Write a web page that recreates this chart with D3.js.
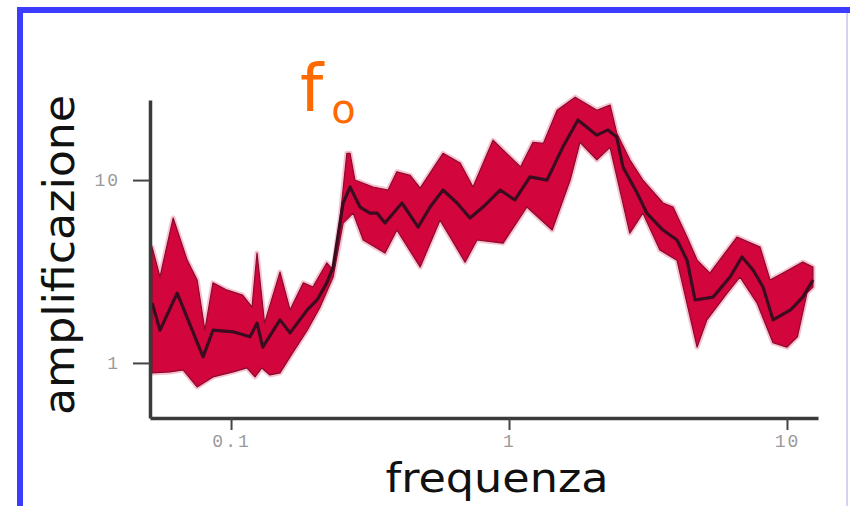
<!DOCTYPE html>
<html>
<head>
    <style>
    body { margin: 0; background: #fff; }
    svg { display: block; }
    </style>
</head>
<body>
    <svg width="850" height="506"></svg>
    <script src="https://d3js.org/d3.v7.min.js"></script>
    <script>

        // mean curve (frequency, amplification)
        var meanFreq = [0.052, 0.0555, 0.064, 0.0793, 0.0861, 0.1017, 0.117, 0.124, 0.130, 0.150, 0.163, 0.188, 0.204, 0.221, 0.233, 0.253, 0.268,
            0.291, 0.316, 0.335, 0.358, 0.412, 0.471, 0.520, 0.579, 0.650, 0.724, 0.806, 0.929, 1.05, 1.19, 1.37, 1.56, 1.77, 2.07, 2.27, 2.44,
            2.57, 2.89, 3.13, 3.58, 4.02, 4.37, 4.67, 5.42, 6.24, 6.89, 7.55, 8.20, 8.91, 10.3, 11.4, 12.4];
        var meanAmp = [2.13, 1.51, 2.41, 1.08, 1.51, 1.48, 1.39, 1.65, 1.22, 1.72, 1.46, 1.95, 2.21, 2.74, 3.35, 7.49, 9.16,
            7.12, 6.60, 6.60, 5.82, 7.49, 5.53, 7.12, 8.82, 7.49, 6.20, 7.12, 8.82, 7.78, 10.4, 10.0, 15.1, 21.3, 17.6, 18.8, 17.2,
            11.8, 8.49, 6.60, 5.33, 4.70, 3.65, 2.21, 2.29, 2.95, 3.80, 3.22, 2.60, 1.72, 1.95, 2.29, 2.84];

        // upper edge of the band
        var upperFreq = [0.052, 0.0555, 0.0619, 0.0695, 0.0755, 0.0805, 0.0861, 0.0968, 0.110, 0.119, 0.124, 0.132, 0.150, 0.163, 0.182, 0.197,
            0.221, 0.233, 0.247, 0.261, 0.268, 0.279, 0.324, 0.367, 0.395, 0.441, 0.479, 0.579, 0.667, 0.742, 0.876, 1.10, 1.22, 1.33, 1.49,
            1.73, 2.07, 2.31, 2.44, 2.72, 3.03, 3.58, 3.89, 4.37, 4.75, 5.28, 6.61, 8.00, 8.69, 9.68, 11.4, 12.4];
        var upperAmp = [4.30, 2.95, 6.20, 3.65, 2.84, 1.51, 2.74, 2.50, 2.35, 2.02, 3.99, 1.65, 3.14, 1.95, 2.74, 2.60,
            3.52, 3.22, 6.28, 14.0, 14.0, 10.0, 9.16, 8.82, 11.1, 10.6, 9.04, 14.0, 12.4, 9.16, 16.5, 11.8, 16.1, 15.9, 24.1,
            28.4, 24.1, 25.7, 18.1, 12.9, 10.0, 7.49, 7.12, 4.88, 3.65, 3.10, 4.88, 4.30, 2.84, 3.10, 3.56, 3.35];

        // lower edge of the band
        var lowerFreq = [0.052, 0.0604, 0.0672, 0.0755, 0.0861, 0.1017, 0.114, 0.122, 0.129, 0.138, 0.150, 0.163, 0.188, 0.209, 0.233, 0.253,
            0.275, 0.299, 0.358, 0.395, 0.479, 0.565, 0.695, 0.767, 0.952, 1.16, 1.43, 1.66, 1.80, 2.07, 2.31, 2.72, 3.03, 3.49, 4.02,
            4.75, 5.15, 6.09, 6.77, 7.80, 8.91, 10.0, 10.9, 11.8, 12.4];
        var lowerAmp = [0.882, 0.893, 0.916, 0.739, 0.839, 0.893, 0.939, 0.839, 0.939, 0.860, 0.882, 1.08, 1.51, 2.02, 2.95, 5.82,
            6.60, 4.70, 3.99, 5.33, 3.35, 6.04, 3.56, 4.70, 4.52, 7.12, 5.33, 10.0, 16.1, 12.9, 15.1, 5.13, 6.60, 4.14, 3.65,
            1.22, 1.72, 2.41, 2.95, 2.13, 1.29, 1.22, 1.39, 2.41, 2.60];

        var xTicks = [0.1, 1, 10],
            xTickLabels = ["0.1", "1", "10"];
        var yTicks = [1, 10],
            yTickLabels = ["1", "10"];

        var svg = d3.select("svg");

        svg.append("rect").attr("width", 850).attr("height", 506).attr("fill", "#fff");

        // frame
        svg.append("line").attr("x1", 17).attr("x2", 850).attr("y1", 10).attr("y2", 10)
            .attr("stroke", "#3c3cff").attr("stroke-width", 6);
        svg.append("line").attr("x1", 20).attr("x2", 20).attr("y1", 7).attr("y2", 506)
            .attr("stroke", "#3c3cff").attr("stroke-width", 6);
        svg.append("line").attr("x1", 847).attr("x2", 847).attr("y1", 13).attr("y2", 506)
            .attr("stroke", "#d4d4f2").attr("stroke-width", 2);

        var x = d3.scaleLog().domain([0.0511, 12.93]).range([150, 818]);
        var y = d3.scaleLog().domain([0.5, 27.4]).range([418, 100]);

        var pts = function (fs, as) {
            return fs.map(function (f, i) { return [f, as[i]]; });
        };
        var line = d3.line()
            .x(function (d) { return x(d[0]); })
            .y(function (d) { return y(d[1]); });

        var upper = pts(upperFreq, upperAmp),
            lower = pts(lowerFreq, lowerAmp).reverse(),
            band = upper.concat(lower);

        svg.append("path")
            .attr("d", line(band) + "Z")
            .attr("fill", "none")
            .attr("stroke", "#f6c3d1")
            .attr("stroke-width", 5)
            .attr("stroke-linejoin", "round");

        svg.append("path")
            .attr("d", line(band) + "Z")
            .attr("fill", "#d3053d")
            .attr("stroke", "#8a0a2c")
            .attr("stroke-width", 1.2)
            .attr("stroke-linejoin", "round");

        svg.append("path")
            .datum(pts(meanFreq, meanAmp))
            .attr("fill", "none")
            .attr("stroke", "#3b0c1f")
            .attr("stroke-width", 3.2)
            .attr("stroke-linejoin", "round")
            .attr("d", line);

        // axes
        var gx = svg.append("g")
            .attr("transform", "translate(0,418)")
            .call(d3.axisBottom(x).tickValues(xTicks)
                .tickFormat(function (d, i) { return xTickLabels[i]; })
                .tickSizeInner(12).tickSizeOuter(0).tickPadding(4));
        var gy = svg.append("g")
            .attr("transform", "translate(150,0)")
            .call(d3.axisLeft(y).tickValues(yTicks)
                .tickFormat(function (d, i) { return yTickLabels[i]; })
                .tickSizeInner(17).tickSizeOuter(0).tickPadding(13));

        [gx, gy].forEach(function (g) {
            g.select(".domain").attr("stroke", "#3a3a3a").attr("stroke-width", 3.5);
            g.selectAll(".tick line").attr("stroke", "#444").attr("stroke-width", 2);
            g.selectAll(".tick text")
                .attr("fill", "#9a9a9a")
                .style("font-family", "'Liberation Mono', 'DejaVu Sans Mono', monospace")
                .style("font-size", "18px")
                .style("letter-spacing", "2px");
        });

        // titles
        svg.append("text")
            .attr("x", 497).attr("y", 492)
            .attr("text-anchor", "middle")
            .attr("textLength", 223).attr("lengthAdjust", "spacingAndGlyphs")
            .style("font-family", "'DejaVu Sans', sans-serif")
            .style("font-size", "40px")
            .attr("fill", "#111")
            .text("frequenza");

        svg.append("text")
            .attr("transform", "translate(74,255) rotate(-90)")
            .attr("text-anchor", "middle")
            .attr("textLength", 320).attr("lengthAdjust", "spacingAndGlyphs")
            .style("font-family", "'DejaVu Sans', sans-serif")
            .style("font-size", "42px")
            .attr("fill", "#111")
            .text("amplificazione");

        var f0 = svg.append("text")
            .attr("x", 300).attr("y", 111)
            .style("font-family", "'DejaVu Sans', sans-serif")
            .attr("fill", "#ff6a00");
        f0.append("tspan").style("font-size", "66px").text("f");
        f0.append("tspan").attr("dx", 8).attr("dy", 12).style("font-size", "40px").text("o");

    </script>
</body>
</html>
